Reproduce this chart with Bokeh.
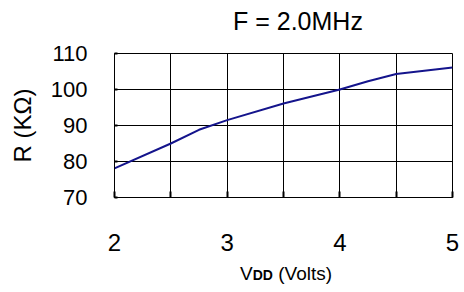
from bokeh.plotting import figure
from bokeh.models import Range1d, FixedTicker, Div
from bokeh.layouts import column
from bokeh.embed import file_html
from bokeh.resources import INLINE

# Data
vdd = [2.0, 2.5, 2.75, 3.0, 3.5, 4.0, 4.25, 4.5, 5.0]
r_kohm = [78.1, 85.0, 88.8, 91.5, 96.1, 100.0, 102.3, 104.3, 106.1]

x_ticks = [2, 2.5, 3, 3.5, 4, 4.5, 5]
x_labels = {2: "2", 2.5: "", 3: "3", 3.5: "", 4: "4", 4.5: "", 5: "5"}
y_ticks = [70, 80, 90, 100, 110]

title_text = "F = 2.0MHz"
y_label = "R (K\u03a9)"
x_label_main = "V"
x_label_sub = "DD"
x_label_rest = " (Volts)"

FONT = "Liberation Sans"

# chart title
title = Div(
    text=('<div style="padding:9px 0 0 233px;white-space:pre;">' + title_text + '</div>'),
    width=464, height=40, margin=0,
    styles={"font-family": FONT, "font-size": "25px", "line-height": "25px",
            "color": "black", "overflow": "visible"},
)

p = figure(width=464, height=224, output_backend="svg", toolbar_location=None,
           x_range=Range1d(2, 5), y_range=Range1d(70, 110),
           min_border_left=114, min_border_right=12, min_border_top=13, min_border_bottom=67)

p.background_fill_color = "white"
p.border_fill_color = "white"
p.outline_line_color = "black"
p.outline_line_width = 1

# x axis
xa = p.xaxis[0]
xa.ticker = FixedTicker(ticks=x_ticks)
xa.major_label_overrides = x_labels
xa.major_label_text_font = FONT
xa.major_label_text_font_size = "24px"
xa.major_label_text_color = "black"
xa.major_label_standoff = 36
xa.major_tick_in = 6
xa.major_tick_out = 0
xa.major_tick_line_width = 2
xa.major_tick_line_color = "black"
xa.minor_tick_line_color = None
xa.axis_line_color = "black"

# y axis
ya = p.yaxis[0]
ya.ticker = FixedTicker(ticks=y_ticks)
ya.major_label_text_font = FONT
ya.major_label_text_font_size = "22px"
ya.major_label_text_color = "black"
ya.major_label_standoff = 27
ya.major_tick_in = 3
ya.major_tick_out = 0
ya.major_tick_line_width = 2
ya.major_tick_line_color = "black"
ya.minor_tick_line_color = None
ya.axis_line_color = "black"
ya.axis_label = y_label
ya.axis_label_text_font = FONT
ya.axis_label_text_font_size = "24px"
ya.axis_label_text_font_style = "normal"
ya.axis_label_text_color = "black"
ya.axis_label_standoff = 12

# grid
p.xgrid.ticker = FixedTicker(ticks=x_ticks)
p.ygrid.ticker = FixedTicker(ticks=y_ticks)
for g in (p.xgrid[0], p.ygrid[0]):
    g.grid_line_color = "black"
    g.grid_line_alpha = 1.0
    g.grid_line_width = 1

# curve
p.line(vdd, r_kohm, line_color="#14148c", line_width=2)

# x axis label, with small bold "DD"
xlabel = Div(
    text=('<div style="padding:0 0 0 240px;white-space:pre;">' + x_label_main
          + '<b style="font-size:14px">' + x_label_sub + '</b>' + x_label_rest + '</div>'),
    width=464, height=28, margin=0,
    styles={"font-family": FONT, "font-size": "19px", "line-height": "19px",
            "color": "black", "overflow": "visible"},
)

layout = column(title, p, xlabel, spacing=0)

open("out.html", "w").write(file_html(layout, INLINE))
